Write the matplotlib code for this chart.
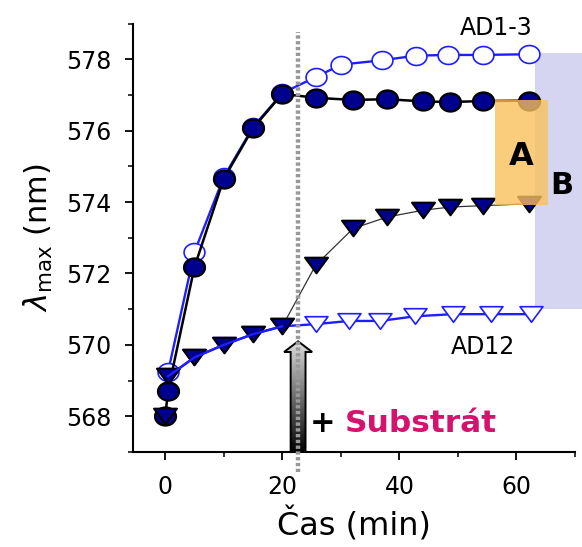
import numpy as np
import matplotlib
matplotlib.use("Agg")
import matplotlib.pyplot as plt
from matplotlib.path import Path
from matplotlib.patches import Rectangle, Polygon

# ---- measurements: time (min) and absorption maximum (nm) ----
t_add = 22.7  # substrate added

# AD1-3 without substrate (filled circles)
t_circ_fill = [0, 0.5, 5, 10, 15, 20, 25.7, 32.1, 37.9, 44.0, 48.7, 54.3, 62.1]
y_circ_fill = [568.0, 568.72, 572.18, 574.65, 576.07, 577.03,
               576.92, 576.86, 576.88, 576.82, 576.80, 576.83, 576.84]

# AD1-3 with substrate (open circles)
t_circ_open = [0.5, 5, 10, 15, 20, 25.7, 30.1, 37.0, 42.8, 48.3, 54.2, 62.1]
y_circ_open = [569.25, 572.6, 574.7, 576.1, 577.05, 577.5, 577.85,
               577.97, 578.1, 578.12, 578.12, 578.14]

# AD12 with substrate (filled triangles)
t_tri_fill = [0, 0.5, 5, 10, 15, 20, 25.7, 32.1, 37.9, 44.0, 48.7, 54.3, 62.1]
y_tri_fill = [568.0, 569.12, 569.65, 570.0, 570.3, 570.52,
              572.23, 573.26, 573.58, 573.77, 573.86, 573.90, 573.95]

# AD12 without substrate (open triangles)
t_tri_open = [0.5, 5, 10, 15, 20, 25.7, 31.4, 36.7, 42.7, 49.1, 55.7, 62.4]
y_tri_open = [569.12, 569.65, 570.0, 570.3, 570.52, 570.58, 570.67,
              570.67, 570.8, 570.86, 570.86, 570.86]

x_ticks = [0, 20, 40, 60]
y_ticks = [568, 570, 572, 574, 576, 578]

# ---- marker shapes ----
th = np.linspace(0, 2 * np.pi, 61)
ellipse = Path(np.column_stack([np.cos(th), 0.86 * np.sin(th)]), closed=True)
tri_down = Path([(-1, 0.68), (1, 0.68), (0, -0.68), (-1, 0.68)], closed=True)

navy = "#00008E"
blue = "#1E1EFF"

fig = plt.figure(figsize=(5.82, 5.47), dpi=100)
ax = fig.add_axes([0.2285, 0.1737, 0.7595, 0.7833])
ax.set_xlim(-5.5, 70)
ax.set_ylim(567, 579)

# region B: spread between the two AD1-3 / AD12 plateaus with substrate
b_lo, b_hi = y_tri_open[-1] + 0.14, y_circ_open[-1] + 0.04
ax.add_patch(Rectangle((63.2, b_lo), 8.5, b_hi - b_lo, facecolor="#D5D5F2",
                       edgecolor="none", zorder=0.5, clip_on=False))

# lines and markers
ax.plot(t_circ_open, y_circ_open, color=blue, lw=1.7, zorder=2,
        marker=ellipse, ms=15, mfc="white", mec=blue, mew=1.2)
ax.plot(t_circ_fill, y_circ_fill, color="black", lw=1.8, zorder=3,
        marker=ellipse, ms=15, mfc=navy, mec="black", mew=1.7)
ax.plot(t_tri_fill[5:], y_tri_fill[5:], color="#333333", lw=0.9, zorder=2.5)
ax.plot(t_tri_open, y_tri_open, color=blue, lw=1.7, zorder=2.6,
        marker=tri_down, ms=16.5, mfc="white", mec=blue, mew=1.2)
ax.plot(t_tri_fill, y_tri_fill, ls="none", zorder=3.5,
        marker=tri_down, ms=16.5, mfc=navy, mec="black", mew=1.5)
# keep the early blue trace of the AD12 series visible on top
ax.plot(t_tri_open[:5], y_tri_open[:5], color=blue, lw=1.7, zorder=3.6)

# region A: spread between the final plateaus without/with substrate
a_lo, a_hi = y_tri_fill[-1] - 0.03, y_circ_fill[-1] + 0.02
ax.add_patch(Rectangle((56.35, a_lo), 9.0, a_hi - a_lo, facecolor="#F9C15C",
                       alpha=0.8, edgecolor="none", zorder=5))
ax.text(60.8, 575.27, "A", fontsize=23, fontweight="bold", ha="center",
        va="center", zorder=6)
ax.text(67.7, 574.45, "B", fontsize=22, fontweight="bold", ha="center",
        va="center", zorder=6, clip_on=False)

# substrate addition: gradient arrow and dotted marker line
bw, hw = 1.27, 2.4
tip, base = 570.1, 569.8
arrow = Polygon([(t_add - bw, 567.0), (t_add - bw, base), (t_add - hw, base),
                 (t_add, tip), (t_add + hw, base), (t_add + bw, base),
                 (t_add + bw, 567.0)], closed=True, facecolor="none",
                edgecolor="black", lw=1.4, zorder=7)
ax.add_patch(arrow)
grad = np.linspace(0.0, 1.0, 256).reshape(-1, 1)
img = ax.imshow(grad, cmap="gray", extent=(t_add - hw, t_add + hw, 567.0, tip),
                origin="lower", aspect="auto", vmin=0.0, vmax=1.15, zorder=6.5)
img.set_clip_path(arrow)
ax.set_xlim(-5.5, 70)
ax.set_ylim(567, 579)

ax.plot([t_add, t_add], [566.45, 578.75], color="#999999", lw=3.2,
        ls=(0, (0.75, 0.55)), zorder=8, clip_on=False)

# annotations
ax.text(56.5, 578.87, "AD1-3", fontsize=17, ha="center", va="center")
ax.text(54.2, 569.95, "AD12", fontsize=17, ha="center", va="center")
ax.text(26.9, 567.8, "+", fontsize=22, fontweight="bold", ha="center",
        va="center")
ax.text(30.6, 567.8, "Substrát", fontsize=22.5, fontweight="bold",
        color="#D5136E", ha="left", va="center")

# axes styling
for s in ("top", "right"):
    ax.spines[s].set_visible(False)
for s in ("left", "bottom"):
    ax.spines[s].set_linewidth(1.5)
ax.set_xticks(x_ticks)
ax.set_yticks(y_ticks)
ax.set_xticks([10, 30, 50, 70], minor=True)
ax.set_yticks([567, 569, 571, 573, 575, 577, 579], minor=True)
ax.tick_params(which="major", length=5.5, width=1.3, labelsize=17, pad=11)
ax.tick_params(which="minor", length=3.5, width=1.1)
ax.tick_params(axis="y", which="major", pad=10)
ax.set_xlabel("Čas (min)", fontsize=23, labelpad=6)
ax.set_ylabel(r"$\lambda_{\mathrm{max}}$ (nm)", fontsize=22, labelpad=8)

fig.savefig("out.png", dpi=100)
